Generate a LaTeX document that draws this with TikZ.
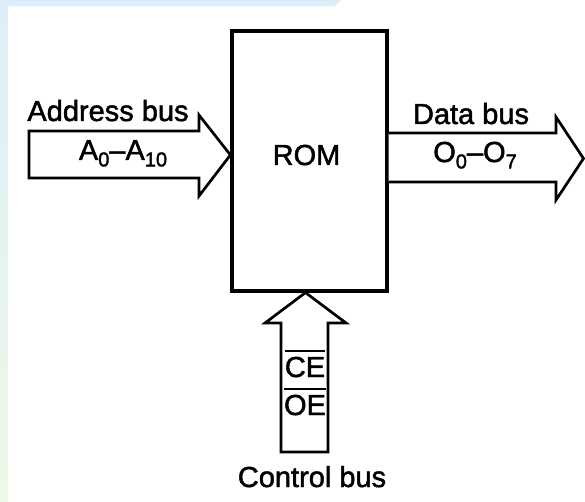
\documentclass[tikz,border=0pt]{standalone}
\usepackage{fontspec}
\setmainfont{Liberation Sans}
\newfontfamily\heavysans[FakeBold=1.6]{Liberation Sans}
\newcommand{\lbl}{\heavysans\fontsize{29}{34}\selectfont}
\newcommand{\subs}[1]{\raisebox{-0.22em}{\fontsize{20}{22}\selectfont #1}}
\newcommand{\ovl}[1]{\leavevmode\vbox{\hrule height 2.4pt\kern 4.5pt\hbox{#1}}}
\definecolor{bandblue}{HTML}{DCEFF8}
\definecolor{bandgreen}{HTML}{EEF8E6}
\tikzset{
  rombox/.style={draw=black, line width=3.2pt, minimum width=155pt, minimum height=260pt, inner sep=0pt},
  busarrow/.style={draw=black, line width=2.7pt, line join=miter, fill=white},
  txt/.style={font=\lbl, inner sep=0pt, anchor=base, text=black}
}
\begin{document}
\begin{tikzpicture}[x=1pt, y=-1pt]
\useasboundingbox (0,0) rectangle (585,502);
% background band
\fill[white] (0,0) rectangle (585,502);
\fill[bandblue] (0,0) -- (341,0) -- (335,6.5) -- (8,6.5) -- (0,6.5) -- cycle;
\shade[top color=bandblue, bottom color=bandgreen] (0,6) rectangle (8,502);
% ROM block
\node[rombox] (rom) at (309.5,161) {};
\node[txt] (romlabel) at (306.5,165) {ROM};
% anchor points on the block
\coordinate (addrtip) at (rom.west |- 0,155);
\coordinate (datafoot) at (rom.east |- 0,157.5);
\coordinate (ctrltip) at (rom.south -| 305.5,0);
% address bus arrow
\draw[busarrow] (29,131) -- (199,131) -- (199,115) -- (addrtip) -- (199,196) -- (199,178) -- (29,178) -- cycle;
\node[txt] (addrlabel) at (108,121) {Address bus};
\node[txt] (addrbits) at (123,160) {A\subs{0}–A\subs{10}};
% data bus arrow
\draw[busarrow] (datafoot |- 0,133) -- (556,133) -- (556,117) -- (583.5,158.5) -- (556,200) -- (556,182) -- (datafoot |- 0,182);
\node[txt] (datalabel) at (471,124) {Data bus};
\node[txt] (databits) at (475,162) {O\subs{0}–O\subs{7}};
% control bus arrow
\draw[busarrow] (ctrltip) -- (346,323) -- (328,323) -- (328,452) -- (281,452) -- (281,323) -- (265,323) -- cycle;
\node[txt] (ce) at (305,377) {\ovl{CE}};
\node[txt] (oe) at (305,415) {\ovl{OE}};
\node[txt] (ctrllabel) at (312,487) {Control bus};
\end{tikzpicture}
\end{document}
